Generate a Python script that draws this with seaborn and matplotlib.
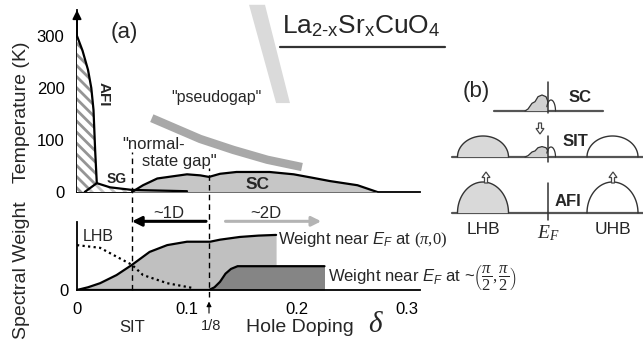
import numpy as np
import matplotlib
matplotlib.use("Agg")
import matplotlib.pyplot as plt
import seaborn as sns
from matplotlib.lines import Line2D

# ---------------- data: (a) phase diagram ----------------
afi_delta = [0.0, 0.005, 0.010, 0.013, 0.015, 0.0165, 0.018]
afi_T = [300, 272, 235, 200, 158, 80, 17]
sg_delta = [0.007, 0.018, 0.030, 0.050, 0.100]
sg_T = [0, 17, 9, 4, 1.5]
sc_delta = [0.050, 0.060, 0.073, 0.100, 0.112, 0.120, 0.130, 0.145, 0.175, 0.197, 0.215, 0.230, 0.255, 0.273]
sc_T = [0, 13, 26, 34, 32, 29, 35, 38.5, 38.5, 34, 27, 21, 13, 0]
pg_delta = [0.068, 0.112, 0.142, 0.173, 0.2045]
pg_T = [142, 102, 81, 62, 48]
pg_light_delta = [0.1564, 0.1709, 0.1936, 0.1810]
pg_light_T = [360, 360, 171, 171]
T_ticks = [0, 100, 200, 300]

# ---------------- data: (a) spectral weight ----------------
w_pi0_delta = [0.0, 0.010, 0.021, 0.036, 0.050, 0.066, 0.082, 0.100, 0.121, 0.130, 0.148, 0.165, 0.181]
w_pi0 = [0.0, 0.04, 0.10, 0.22, 0.37, 0.56, 0.66, 0.71, 0.71, 0.74, 0.78, 0.80, 0.81]
w_node_delta = [0.0, 0.120, 0.125, 0.130, 0.135, 0.140, 0.146, 0.225]
w_node = [0.0, 0.0, 0.04, 0.12, 0.24, 0.31, 0.35, 0.35]
lhb_delta = [0.0, 0.021, 0.036, 0.050, 0.060, 0.082, 0.105]
lhb_w = [0.66, 0.62, 0.49, 0.37, 0.22, 0.10, 0.03]
delta_ticks = [0, 0.05, 0.10, 0.15, 0.20, 0.25, 0.30]
delta_ticklabels = ['0', '', '0.1', '', '0.2', '', '0.3']
sit_delta = 0.05
eighth_delta = 0.12

# ---------------- data: (b) schematic spectra ----------------
row_names = ['AFI', 'SIT', 'SC']
row_base = [0.0, 5.6, 10.2]
row_extent = [(-9.6, 9.5), (-9.6, 9.5), (-5.4, 5.5)]
hub_height = [3.1, 2.1, 0.0]
hub_center = [-6.5, 6.45]
hub_halfwidth = 2.55
ingap_x = [-2.3, -2.0, -1.6, -1.3, -1.0, -0.6, -0.2, 0.0, 0.0]
ingap_y = [0.0, 0.2, 0.77, 0.93, 1.43, 1.6, 1.43, 0.93, 0.0]
ingap_scale = [0.0, 0.65, 1.0]
qp_height = [0.0, 1.0, 1.1]

# ---------------- style ----------------
sns.set_theme(style='white')
plt.rcParams.update({
    'font.family': ['Liberation Sans', 'DejaVu Sans'],
    'mathtext.fontset': 'custom',
    'mathtext.rm': 'Liberation Serif',
    'mathtext.it': 'Liberation Serif:italic',
    'mathtext.sf': 'Liberation Sans:italic',
    'mathtext.bf': 'Liberation Serif:bold',
    'hatch.linewidth': 2.0,
    'axes.linewidth': 1.3,
    'axes.edgecolor': 'black',
    'xtick.color': 'black',
    'ytick.color': 'black',
})

W, H = 643, 345
fig = plt.figure(figsize=(W / 100, H / 100), dpi=100)


def fbox(x0, y0, x1, y1):
    return [x0 / W, 1 - y1 / H, (x1 - x0) / W, (y1 - y0) / H]


ax = fig.add_axes(fbox(77, 10, 420, 192))
axs = fig.add_axes(fbox(77, 222, 420, 290))
axb = fig.add_axes(fbox(440, 75, 643, 240))
for a in (ax, axs, axb):
    a.set_facecolor('none')

XMAX = 343 / 1100
# ---------------- (a) top: phase diagram ----------------
ax.fill(pg_light_delta, pg_light_T, color='#dadada', lw=0, clip_on=False, zorder=1)
sns.lineplot(x=pg_delta, y=pg_T, ax=ax, color='#a8a8a8', lw=6, estimator=None, sort=False,
             solid_capstyle='butt', zorder=2)
ax.fill_between(afi_delta, 0, afi_T, facecolor='white', edgecolor='#959595', hatch='\\\\\\',
                linewidth=0, zorder=3)
ax.fill_between(sg_delta[:4], 0, sg_T[:4], facecolor='white', edgecolor='#c4c4c4', hatch='\\\\\\',
                linewidth=0, zorder=3)
ax.fill_between(sc_delta, 0, sc_T, color='#c6c6c6', lw=0, zorder=3)
for xs, ys in ((afi_delta, afi_T), (sg_delta, sg_T), (sc_delta, sc_T)):
    sns.lineplot(x=xs, y=ys, ax=ax, color='black', lw=1.6, estimator=None, sort=False, zorder=4)

ax.set_xlim(0, XMAX)
ax.set_ylim(0, 350)
ax.set_yticks(T_ticks)
ax.set_yticklabels([str(t) for t in T_ticks])
ax.set_xticks(delta_ticks)
ax.set_xticklabels([])
ax.tick_params(axis='y', direction='out', length=8, width=1.3, labelsize=12, pad=1)
ax.tick_params(axis='x', direction='out', length=6, width=1.3)
for s in ('top', 'right'):
    ax.spines[s].set_visible(False)
ax.set_xlabel('')
ax.set_ylabel('')
ax.annotate('', xy=(0, 1.0), xycoords=('data', 'axes fraction'), xytext=(0, 0.85),
            textcoords=('data', 'axes fraction'),
            arrowprops=dict(arrowstyle='-|>', color='black', lw=1.3, mutation_scale=13,
                            shrinkA=0, shrinkB=0), annotation_clip=False)

ax.text(0.043, 306, '(a)', fontsize=16, ha='center', va='center')
ax.text(0.0245, 188, 'AFI', fontsize=11, fontweight='bold', rotation=270, ha='center', va='center')
ax.text(0.036, 25, 'SG', fontsize=10, fontweight='bold', ha='center', va='center', zorder=6)
ax.text(0.164, 15, 'SC', fontsize=12.5, fontweight='bold', ha='center', va='center', zorder=6)
ax.text(0.041, 92, '"normal-', fontsize=12, ha='left', va='center', zorder=6)
ax.text(0.059, 59, 'state gap"', fontsize=12, ha='left', va='center', zorder=6)
ax.text(0.127, 181, '"pseudogap"', fontsize=11.5, ha='center', va='center', zorder=6)

# ---------------- (a) bottom: spectral weight ----------------
axs.fill_between(w_pi0_delta, 0, w_pi0, color='#c0c0c0', lw=0, zorder=1)
axs.fill_between(w_node_delta, 0, w_node, color='#858585', lw=0, zorder=2)
sns.lineplot(x=w_pi0_delta, y=w_pi0, ax=axs, color='black', lw=1.6, estimator=None, sort=False, zorder=3)
sns.lineplot(x=w_node_delta, y=w_node, ax=axs, color='black', lw=1.6, estimator=None, sort=False, zorder=3)
sns.lineplot(x=lhb_delta, y=lhb_w, ax=axs, color='black', lw=1.6, estimator=None, sort=False,
             linestyle=(0, (1, 1.5)), zorder=3)

axs.set_xlim(0, XMAX)
axs.set_ylim(0, 1)
axs.set_xticks(delta_ticks)
axs.set_xticklabels(delta_ticklabels)
axs.set_yticks([0])
axs.set_yticklabels(['0'])
axs.tick_params(axis='both', direction='inout', length=10, width=1.3, labelsize=12, pad=1)
axs.tick_params(axis='x', pad=4)
for s in ('top', 'right'):
    axs.spines[s].set_visible(False)
axs.set_xlabel('')
axs.set_ylabel('')

for xd, ytop, ybot in ((sit_delta, 2.03, 0.0), (eighth_delta, 1.79, -0.10)):
    axs.plot([xd, xd], [ybot, ytop], color='black', lw=1.0, ls=(0, (4, 3)), clip_on=False, zorder=5)
axs.annotate('', xy=(eighth_delta, -0.17), xytext=(eighth_delta, -0.34),
             arrowprops=dict(arrowstyle='-|>', color='black', lw=0.8, mutation_scale=7,
                             shrinkA=0, shrinkB=0), annotation_clip=False)

axs.annotate('', xy=(sit_delta, 1.01), xytext=(0.1173, 1.01),
             arrowprops=dict(arrowstyle='-|>', color='black', lw=2.2, mutation_scale=14,
                             shrinkA=0, shrinkB=0), annotation_clip=False)
axs.annotate('', xy=(0.222, 1.01), xytext=(0.135, 1.01),
             arrowprops=dict(arrowstyle='-|>', color='#b4b4b4', lw=2.2, mutation_scale=14,
                             shrinkA=0, shrinkB=0), annotation_clip=False)
axs.text(0.083, 1.13, '~1D', fontsize=12, ha='center', va='center')
axs.text(0.172, 1.13, '~2D', fontsize=12, ha='center', va='center')
axs.text(0.019, 0.79, 'LHB', fontsize=11.5, ha='center', va='center')
axs.text(0.183, 0.735, r'Weight near $\mathsf{E}_\mathsf{F}$ at $\mathrm{(}\pi{,}\mathrm{0)}$',
         fontsize=12, ha='left', va='center')
axs.text(0.228, 0.19, r'Weight near $\mathsf{E}_\mathsf{F}$ at ~$\left(\dfrac{\pi}{2},\dfrac{\pi}{2}\right)$',
         fontsize=12, ha='left', va='center')

axs.text(sit_delta, -0.55, 'SIT', fontsize=12, ha='center', va='center')
axs.text(eighth_delta + 0.002, -0.53, '1/8', fontsize=10.5, ha='center', va='center')
axs.text(0.154, -0.55, 'Hole Doping', fontsize=14, ha='left', va='center')
axs.text(0.2645, -0.5, r'$\delta$', fontsize=21, ha='left', va='center')

fig.text(22 / W, 1 - 112 / H, 'Temperature (K)', fontsize=14, rotation=90, ha='center', va='center')
fig.text(22 / W, 1 - 270 / H, 'Spectral Weight', fontsize=14, rotation=90, ha='center', va='center')

# title
fig.text(282 / W, 1 - 33 / H, 'La$_{\\mathregular{2\u2010x}}$Sr$_{\\mathregular{x}}$CuO$_{\\mathregular{4}}$',
         fontsize=19, ha='left', va='baseline')
fig.add_artist(Line2D([280 / W, 445 / W], [1 - 47 / H, 1 - 47 / H], color='#333333', lw=1.6))

# ---------------- (b) schematic ----------------
axb.set_xlim(-10.8, 9.5)
axb.set_ylim(-2.7, 13.8)
axb.axis('off')
t = np.linspace(0, np.pi, 80)
for name, base, ext, h, sc_, qh in zip(row_names, row_base, row_extent, hub_height, ingap_scale, qp_height):
    axb.plot(list(ext), [base, base], color='#555555', lw=1.6, zorder=1)
    if h > 0:
        for c, filled in zip(hub_center, (True, False)):
            xs = c + hub_halfwidth * np.cos(t)
            ys = base + h * np.sin(t)
            if filled:
                axb.fill(xs, ys, color='#d9d9d9', lw=0, zorder=2)
            axb.plot(xs, ys, color='#333333', lw=1.0, zorder=3)
    if sc_ > 0:
        gx = np.array(ingap_x)
        gy = base + sc_ * np.array(ingap_y)
        axb.fill(gx, gy, color='#d0d0d0', lw=0, zorder=2)
        axb.plot(gx[:-1], gy[:-1], color='#333333', lw=0.9, zorder=3)
        axb.plot(0.3 + 0.45 * np.cos(t[:70]), base + qh * np.sin(t[:70]), color='#333333', lw=0.9, zorder=3)
ef_lines = [(-0.7, 3.0), (-0.5, 2.1), (-0.2, 2.9)]
for base, (lo, hi) in zip(row_base, ef_lines):
    axb.plot([0, 0], [base + lo, base + hi], color='#333333', lw=1.1, zorder=4)

arrow_kw = dict(width=0.3, head_width=0.8, head_length=0.55, fc='white', ec='#444444', lw=0.9,
                length_includes_head=True, zorder=5)
axb.arrow(-0.8, 9.0, 0, -1.1, **arrow_kw)
axb.arrow(-6.2, 3.0, 0, 1.1, **arrow_kw)
axb.arrow(6.5, 3.0, 0, 1.1, **arrow_kw)

axb.text(3.2, 11.6, 'SC', fontsize=12, fontweight='bold', ha='center', va='center')
axb.text(2.7, 7.1, 'SIT', fontsize=12, fontweight='bold', ha='center', va='center')
axb.text(2.0, 1.1, 'AFI', fontsize=12, fontweight='bold', ha='center', va='center')
axb.text(-6.5, -1.7, 'LHB', fontsize=12.5, ha='center', va='center')
axb.text(6.5, -1.6, 'UHB', fontsize=12.5, ha='center', va='center')
axb.text(0.0, -2.0, r'$E_F$', fontsize=14, ha='center', va='center')
axb.text(-7.2, 12.1, '(b)', fontsize=16, ha='center', va='center')

fig.savefig('out.png', dpi=100)
